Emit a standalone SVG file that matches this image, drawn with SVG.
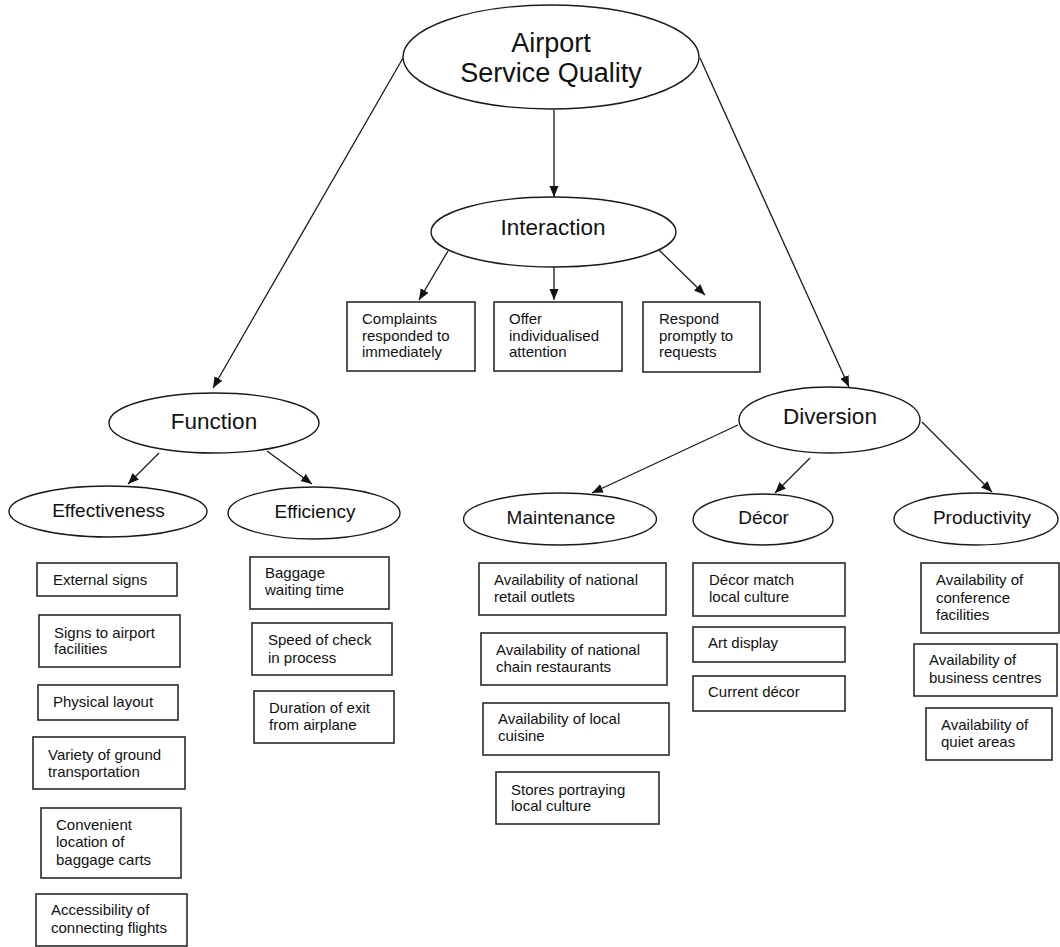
<svg xmlns="http://www.w3.org/2000/svg" width="1060" height="947" viewBox="0 0 1060 947">
<style>
.bg{fill:#ffffff}
.el{fill:#ffffff;stroke:#1a1a1a;stroke-width:1.4}
.bx{fill:#ffffff;stroke:#2a2a2a;stroke-width:1.6}
.t{font-family:"Liberation Sans",Arial,sans-serif;fill:#111111}
.s{font-size:15px}
.m{font-size:19px;text-anchor:middle}
.l{font-size:22.5px;text-anchor:middle}
.xl{font-size:27px;text-anchor:middle}
.cn{stroke:#1a1a1a;stroke-width:1.3;fill:none;marker-end:url(#ah)}
</style>
<defs>
<marker id="ah" markerUnits="userSpaceOnUse" markerWidth="12" markerHeight="10" refX="11" refY="4.5" orient="auto">
<path d="M0,0 L11,4.5 L0,9 z" fill="#111111"/>
</marker>
</defs>
<rect class="bg" x="0" y="0" width="1060" height="947"/>

<g id="connectors">
<line class="cn" x1="554" y1="110" x2="554" y2="197"/>
<line class="cn" x1="403" y1="58" x2="213" y2="388"/>
<line class="cn" x1="700" y1="58" x2="849" y2="387"/>
<line class="cn" x1="448" y1="251" x2="419" y2="300"/>
<line class="cn" x1="554" y1="267" x2="554" y2="300"/>
<line class="cn" x1="659" y1="250" x2="705" y2="295"/>
<line class="cn" x1="159" y1="453" x2="128" y2="484"/>
<line class="cn" x1="267" y1="451" x2="312" y2="484"/>
<line class="cn" x1="738" y1="425" x2="592" y2="493"/>
<line class="cn" x1="810" y1="458" x2="775" y2="493"/>
<line class="cn" x1="922" y1="422" x2="992" y2="492"/>
</g>

<g id="airport-service-quality">
<ellipse class="el" cx="551" cy="57" rx="148" ry="52"/>
<text class="t xl" x="551" y="52">Airport</text>
<text class="t xl" x="551" y="82">Service Quality</text>
</g>

<g id="interaction">
<ellipse class="el" cx="553.5" cy="232" rx="122.5" ry="35"/>
<text class="t l" x="553" y="235">Interaction</text>
</g>
<g id="complaints">
<rect class="bx" x="347" y="302" width="128" height="69"/>
<text class="t s" x="362" y="324">Complaints</text>
<text class="t s" x="362" y="341">responded to</text>
<text class="t s" x="362" y="357">immediately</text>
</g>
<g id="individualised">
<rect class="bx" x="494" y="302" width="128" height="69"/>
<text class="t s" x="509" y="324">Offer</text>
<text class="t s" x="509" y="341">individualised</text>
<text class="t s" x="509" y="357">attention</text>
</g>
<g id="respond">
<rect class="bx" x="643" y="302" width="117" height="70"/>
<text class="t s" x="659" y="324">Respond</text>
<text class="t s" x="659" y="341">promptly to</text>
<text class="t s" x="659" y="357">requests</text>
</g>

<g id="function">
<ellipse class="el" cx="214" cy="423" rx="105" ry="30"/>
<text class="t l" x="214" y="429">Function</text>
</g>
<g id="effectiveness">
<ellipse class="el" cx="108" cy="511.5" rx="99" ry="25.5"/>
<text class="t m" x="108.5" y="517">Effectiveness</text>
</g>
<g id="efficiency">
<ellipse class="el" cx="314" cy="513" rx="86" ry="26"/>
<text class="t m" x="315" y="518">Efficiency</text>
</g>

<g id="external-signs">
<rect class="bx" x="37" y="563" width="140" height="33"/>
<text class="t s" x="53" y="585">External signs</text>
</g>
<g id="signs-facilities">
<rect class="bx" x="39" y="615" width="141" height="52"/>
<text class="t s" x="54" y="638">Signs to airport</text>
<text class="t s" x="54" y="654">facilities</text>
</g>
<g id="physical-layout">
<rect class="bx" x="38" y="685" width="140" height="35"/>
<text class="t s" x="53" y="707">Physical layout</text>
</g>
<g id="ground-transport">
<rect class="bx" x="33" y="737" width="152" height="52"/>
<text class="t s" x="48" y="760">Variety of ground</text>
<text class="t s" x="48" y="777">transportation</text>
</g>
<g id="baggage-carts">
<rect class="bx" x="41" y="808" width="140" height="70"/>
<text class="t s" x="56" y="830">Convenient</text>
<text class="t s" x="56" y="847">location of</text>
<text class="t s" x="56" y="865">baggage carts</text>
</g>
<g id="connecting-flights">
<rect class="bx" x="36" y="894" width="151" height="52"/>
<text class="t s" x="51" y="915">Accessibility of</text>
<text class="t s" x="51" y="933">connecting flights</text>
</g>

<g id="baggage-waiting">
<rect class="bx" x="250" y="557" width="139" height="52"/>
<text class="t s" x="265" y="578">Baggage</text>
<text class="t s" x="265" y="595">waiting time</text>
</g>
<g id="check-in">
<rect class="bx" x="252" y="623" width="140" height="52"/>
<text class="t s" x="268" y="645">Speed of check</text>
<text class="t s" x="268" y="663">in process</text>
</g>
<g id="exit-airplane">
<rect class="bx" x="254" y="691" width="140" height="52"/>
<text class="t s" x="269" y="713">Duration of exit</text>
<text class="t s" x="269" y="730">from airplane</text>
</g>

<g id="diversion">
<ellipse class="el" cx="829.5" cy="420" rx="90.5" ry="33"/>
<text class="t l" x="830" y="424">Diversion</text>
</g>
<g id="maintenance">
<ellipse class="el" cx="560" cy="519" rx="96.5" ry="26"/>
<text class="t m" x="561" y="524">Maintenance</text>
</g>
<g id="decor">
<ellipse class="el" cx="763" cy="519.5" rx="70" ry="25.5"/>
<text class="t m" x="763.5" y="524">Décor</text>
</g>
<g id="productivity">
<ellipse class="el" cx="976" cy="519" rx="82" ry="26"/>
<text class="t m" x="982" y="524">Productivity</text>
</g>

<g id="retail-outlets">
<rect class="bx" x="479" y="563" width="187" height="52"/>
<text class="t s" x="494" y="585">Availability of national</text>
<text class="t s" x="494" y="602">retail outlets</text>
</g>
<g id="chain-restaurants">
<rect class="bx" x="481" y="633" width="186" height="52"/>
<text class="t s" x="496" y="655">Availability of national</text>
<text class="t s" x="496" y="672">chain restaurants</text>
</g>
<g id="local-cuisine">
<rect class="bx" x="483" y="703" width="186" height="52"/>
<text class="t s" x="498" y="724">Availability of local</text>
<text class="t s" x="498" y="741">cuisine</text>
</g>
<g id="stores-culture">
<rect class="bx" x="496" y="772" width="163" height="52"/>
<text class="t s" x="511" y="795">Stores portraying</text>
<text class="t s" x="511" y="811">local culture</text>
</g>

<g id="decor-match">
<rect class="bx" x="693" y="563" width="152" height="53"/>
<text class="t s" x="709" y="585">Décor match</text>
<text class="t s" x="709" y="602">local culture</text>
</g>
<g id="art-display">
<rect class="bx" x="693" y="627" width="152" height="35"/>
<text class="t s" x="708" y="648">Art display</text>
</g>
<g id="current-decor">
<rect class="bx" x="693" y="676" width="152" height="35"/>
<text class="t s" x="708" y="697">Current décor</text>
</g>

<g id="conference">
<rect class="bx" x="921" y="563" width="138" height="70"/>
<text class="t s" x="936" y="585">Availability of</text>
<text class="t s" x="936" y="603">conference</text>
<text class="t s" x="936" y="620">facilities</text>
</g>
<g id="business-centres">
<rect class="bx" x="914" y="644" width="143" height="52"/>
<text class="t s" x="929" y="665">Availability of</text>
<text class="t s" x="929" y="683">business centres</text>
</g>
<g id="quiet-areas">
<rect class="bx" x="926" y="708" width="126" height="52"/>
<text class="t s" x="941" y="730">Availability of</text>
<text class="t s" x="941" y="747">quiet areas</text>
</g>
</svg>
